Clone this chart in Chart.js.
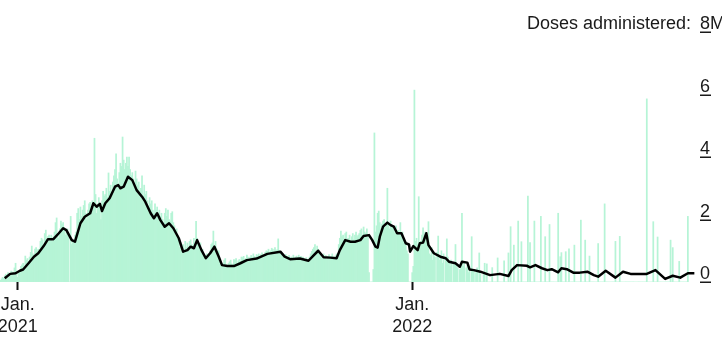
<!DOCTYPE html>
<html>
<head>
<meta charset="utf-8">
<script src="https://cdn.jsdelivr.net/npm/chart.js@4"></script>
<style>
  html, body { margin: 0; padding: 0; background: #fff; }
  #wrap { width: 722px; height: 344px; position: relative; }
</style>
</head>
<body>
<div id="wrap"><canvas id="chart"></canvas></div>
<script>
// Días contados desde el 1 de enero de 2021 (día 0)
const firstDay = -16;

// Dosis diarias (millones), una por día desde firstDay
const dailyDoses = [
  0.05, 0.1, 0.15, 0.12, 0.2, 0.25, 0.18,
  0.3, 0.28, 0.2, 0.35, 0.32, 0.25, 0.45,
  0.6, 0.35, 0.15, 0.3, 0.35, 0.5, 0.55,
  0.6, 0.45, 0.83, 0.7, 0.75, 0.65, 0.8,
  0.95, 1.15, 0.9, 0.8, 1.05, 1.1, 1.0,
  1.05, 0.95, 1.3, 1.4, 1.35, 1.2, 1.55,
  1.66, 1.3, 1.45, 1.5, 1.4, 1.5, 1.3,
  1.45, 1.6, 1.9, 2.05, 1.55, 1.4, 1.7,
  1.95, 1.85, 1.9, 1.75, 1.5, 1.6, 1.7,
  1.55, 0, 2.1, 1.2, 1.3, 1.25, 1.5,
  1.6, 2.2, 2.35, 2.0, 2.4, 2.1, 2.3,
  2.45, 2.6, 2.2, 2.0, 2.3, 2.5, 2.55,
  2.4, 2.6, 2.5, 4.6, 2.8, 2.2, 2.5,
  2.7, 2.4, 2.0, 2.6, 2.9, 2.75, 2.8,
  3.0, 2.7, 3.49, 2.9, 3.1, 2.85, 3.2,
  3.4, 3.6, 4.1, 3.3, 3.0, 3.5, 3.8,
  3.7, 4.64, 3.9, 3.6, 3.8, 4.0, 3.7,
  4.0, 3.6, 3.4, 3.5, 3.3, 3.1, 3.55,
  3.3, 3.1, 3.2, 2.9, 3.0, 3.4, 2.75,
  3.1, 2.8, 2.9, 2.6, 2.4, 2.7, 2.5,
  2.6, 2.3, 2.2, 2.5, 2.3, 2.4, 2.1,
  2.3, 2.1, 2.2, 2.0, 1.9, 2.2, 2.35,
  2.1, 2.3, 2.0, 1.95, 2.2, 2.25, 1.9,
  1.8, 1.6, 1.7, 1.5, 1.4, 1.1, 1.25,
  1.0, 1.2, 0.95, 1.3, 1.1, 1.25, 1.0,
  1.3, 1.35, 1.2, 1.15, 1.4, 1.25, 1.94,
  1.4, 1.2, 1.1, 1.25, 1.0, 1.05, 0.9,
  0.8, 0.85, 0.9, 0.82, 0.88, 1.0, 1.2,
  1.25, 1.63, 1.1, 1.3, 1.05, 0.9, 1.0,
  0.7, 0.65, 0.55, 0.6, 0.7, 0.75, 0.55,
  0.5, 0.6, 0.65, 0.7, 0.58, 0.52, 0.72,
  0.7, 0.75, 0.6, 0.68, 0.72, 0.65, 0.8,
  0.78, 0.82, 0.72, 0.75, 0.86, 0.8, 0.7,
  0.8, 0.85, 0.78, 0.9, 0.82, 0.75, 0.88,
  0.85, 0.9, 0.8, 0.88, 0.93, 0.86, 0.82,
  0.95, 1.0, 0.98, 1.05, 0.92, 1.0, 1.08,
  1.05, 0.98, 1.1, 1.0, 1.03, 1.38, 1.0,
  0.95, 0.9, 0.85, 0.8, 0.75, 0.88, 0.82,
  0.78, 0.85, 0.7, 0.8, 0.75, 0.86, 0.72,
  0.8, 0.83, 0.78, 0.86, 0.7, 0.82, 0.76,
  0.8, 0.74, 0.68, 0.78, 0.72, 0.66, 0.8,
  0.9, 0.98, 1.05, 1.1, 1.2, 1.0, 1.15,
  1.05, 0.9, 0.85, 0.78, 0.83, 0.9, 0.8,
  0.85, 0.72, 0.8, 0.88, 0.76, 0.82, 0.9,
  0.8, 0.75, 0.84, 0.9, 0.78, 1.2, 1.4,
  1.63, 1.45, 1.5, 1.35, 1.55, 1.6, 1.38,
  1.4, 1.5, 1.3, 1.45, 1.55, 1.35, 1.5,
  1.6, 1.45, 1.5, 1.55, 1.65, 1.7, 1.5,
  1.76, 1.6, 1.55, 1.7, 1.5, 0.3, 0,
  0, 0, 0.4, 4.77, 1.6, 1.8, 2.2,
  2.27, 1.9, 1.7, 1.85, 1.95, 2.0, 1.75,
  1.85, 3.0, 1.9, 1.7, 1.95, 1.8, 1.75,
  1.7, 1.55, 1.8, 1.6, 1.65, 1.5, 1.9,
  1.55, 1.6, 1.4, 1.3, 1.2, 1.0, 0.9,
  0, 0, 0, 0.3, 0.5, 6.14, 1.3,
  1.4, 1.2, 2.73, 1.1, 1.3, 1.5, 1.73,
  1.45, 1.6, 1.5, 1.3, 1.93, 0.9, 0.85,
  1.1, 0.7, 0.9, 0.8, 0, 0.95, 1.47,
  0.7, 0.85, 1.0, 0.6, 0.9, 0, 0.75,
  1.38, 0.8, 0.65, 0.5, 0.7, 0, 0.6,
  0.6, 1.2, 0.55, 0.45, 0, 0.4, 0.5,
  2.2, 0.5, 0.6, 0, 0.45, 0.55, 0.3,
  0.5, 0, 1.45, 0.35, 0.4, 0, 0.3,
  0.45, 0, 0.93, 0.3, 0, 0, 0.25,
  0.6, 0, 0.58, 0, 0, 0, 0,
  0.46, 0, 0, 0, 0, 0.77, 0,
  0, 0, 0, 0, 0.68, 0, 0,
  0, 0.93, 0, 1.77, 0, 0, 1.18,
  0, 0, 0, 1.95, 0, 0, 1.29,
  0, 0, 0, 0, 0, 2.75, 0,
  1.26, 0, 0, 0, 1.95, 0, 0,
  0, 0, 0, 2.1, 0, 0, 0,
  1.45, 0, 0, 0, 1.84, 0, 0,
  0, 0, 0, 0, 0, 2.2, 0,
  0.81, 0.94, 0, 0, 0, 0.97, 0,
  0, 1.06, 0, 0, 0, 0, 1.18,
  0, 0, 0, 0, 0, 1.98, 0,
  0, 0, 1.34, 0, 0, 0, 0.83,
  0, 0, 0, 0, 0, 0, 0,
  1.23, 0, 0, 0, 0, 0, 2.5,
  0, 0, 0, 0, 0, 0, 0,
  0, 0, 1.3, 0, 0, 0, 1.46,
  0, 0, 0, 0, 0, 0, 0,
  0, 0, 0, 0, 0, 0, 0,
  0, 0, 0, 0, 0, 0, 0,
  0, 0, 0, 5.86, 0, 0, 0,
  0, 0, 1.93, 0, 0, 0, 1.44,
  0, 0, 0, 0, 0, 0, 0,
  0, 0, 0, 0, 1.34, 0, 1.1,
  0, 0, 0, 0, 0, 0.66, 0,
  0, 0, 0, 0, 0, 0, 2.1
];

// Promedio de 7 días (millones)
const avgDays = [
  -12, -7, -2, 2, 5, 10, 15, 19, 24, 28, 33, 38, 42, 45, 50, 53, 58, 62, 67, 70,
  73, 76, 78, 81, 85, 90, 93, 95, 98, 102, 106, 110, 115, 118, 123, 126, 129, 132, 136, 140,
  144, 149, 153, 157, 160, 163, 166, 170, 174, 178, 182, 186, 189, 194, 200, 206, 212, 221, 231, 243,
  247, 252, 261, 269, 274, 278, 283, 289, 295, 298, 303, 308, 312, 317, 320, 325, 328, 331, 333, 335,
  338, 342, 345, 348, 351, 355, 359, 362, 363, 366, 370, 372, 375, 378, 380, 385, 391, 396, 399, 405,
  409, 411, 416, 418, 422, 428, 437, 446, 454, 457, 462, 471, 474, 479, 485, 490, 494, 500, 503, 508,
  514, 520, 527, 533, 537, 544, 553, 560, 567, 582, 590, 599, 606, 613, 620, 626
];
const avgDoses = [
  0.12, 0.26, 0.28, 0.36, 0.4, 0.6, 0.81, 0.92, 1.15, 1.37, 1.37, 1.56, 1.72, 1.66, 1.34, 1.29, 1.88, 2.09, 2.2, 2.52,
  2.41, 2.5, 2.27, 2.52, 2.68, 3.05, 3.1, 3.0, 3.05, 3.37, 3.26, 2.94, 2.73, 2.57, 2.2, 2.04, 2.2, 1.98, 1.77, 1.88,
  1.72, 1.4, 0.97, 1.02, 1.13, 1.08, 1.34, 1.02, 0.76, 0.92, 1.13, 0.81, 0.54, 0.51, 0.51, 0.6, 0.7, 0.75, 0.9, 0.97,
  0.81, 0.73, 0.75, 0.68, 0.86, 1.0, 0.79, 0.78, 0.76, 1.02, 1.34, 1.29, 1.29, 1.34, 1.47, 1.5, 1.34, 1.13, 1.1, 1.45,
  1.77, 1.9, 1.82, 1.77, 1.56, 1.56, 1.24, 1.2, 0.97, 1.15, 1.02, 1.24, 1.26, 1.56, 1.18, 0.92, 0.81, 0.76, 0.65, 0.6,
  0.49, 0.65, 0.62, 0.4, 0.38, 0.33, 0.22, 0.26, 0.19, 0.38, 0.54, 0.52, 0.47, 0.54, 0.44, 0.38, 0.41, 0.31, 0.44, 0.41,
  0.3, 0.3, 0.33, 0.22, 0.17, 0.36, 0.14, 0.33, 0.26, 0.26, 0.38, 0.1, 0.2, 0.14, 0.28, 0.28
];

// Ejes
const xMin = -16.4;
const xMax = 626.6;
const xTickDays = [0, 365];
const xTickLabels = [['Jan.', '2021'], ['Jan.', '2022']];
const yTickValues = [0, 2, 4, 6, 8];
const yTickLabels = ['0', '2', '4', '6', '8M'];
const yTitle = 'Doses administered:';

const FONT = '"Liberation Sans", Arial, sans-serif';

// Etiquetas del eje Y con subrayado, a la derecha
const yAxisLabels = {
  id: 'yAxisLabels',
  afterDraw(chart) {
    const { ctx, chartArea, scales: { y } } = chart;
    const x0 = chartArea.right + 5;
    ctx.save();
    ctx.font = '18px ' + FONT;
    ctx.fillStyle = '#1a1a1a';
    ctx.strokeStyle = '#1a1a1a';
    ctx.lineWidth = 1.5;
    ctx.textBaseline = 'alphabetic';
    yTickValues.forEach((v, i) => {
      const py = Math.round(y.getPixelForValue(v));
      ctx.textAlign = 'left';
      ctx.fillText(yTickLabels[i], x0, py - 3);
      ctx.beginPath();
      ctx.moveTo(x0, py + 0.25);
      ctx.lineTo(x0 + 11, py + 0.25);
      ctx.stroke();
    });
    ctx.textAlign = 'right';
    ctx.fillText(yTitle, x0 - 9, Math.round(y.getPixelForValue(8)) - 3);
    ctx.restore();
  }
};

const ctx = document.getElementById('chart').getContext('2d');
const chart = new Chart(ctx, {
  type: 'bar',
  data: {
    datasets: [
      {
        type: 'line',
        label: '7-day average',
        data: avgDays.map((d, i) => ({ x: d, y: avgDoses[i] })),
        borderColor: '#000',
        borderWidth: 2.5,
        borderJoinStyle: 'round',
        pointRadius: 0,
        tension: 0,
        order: 0
      },
      {
        label: 'Daily doses',
        data: dailyDoses.map((v, i) => ({ x: firstDay + i, y: v })),
        backgroundColor: '#b6f4d6',
        borderWidth: 0,
        barPercentage: 1,
        categoryPercentage: 1,
        order: 1
      }
    ]
  },
  options: {
    responsive: true,
    maintainAspectRatio: false,
    animation: false,
    layout: { padding: { top: 32, right: 27, left: 0, bottom: 0 } },
    plugins: {
      legend: { display: false },
      tooltip: { enabled: false }
    },
    scales: {
      x: {
        type: 'linear',
        min: xMin,
        max: xMax,
        offset: false,
        border: { display: false },
        grid: {
          offset: false,
          drawOnChartArea: false,
          drawTicks: true,
          tickLength: 8,
          tickWidth: 2,
          tickColor: '#111'
        },
        afterBuildTicks: axis => {
          axis.ticks = xTickDays.map(v => ({ value: v }));
        },
        afterFit: scale => {
          scale.height = 62;
          scale.paddingLeft = 0;
          scale.paddingRight = 0;
        },
        ticks: {
          autoSkip: false,
          maxRotation: 0,
          padding: 4,
          color: '#1a1a1a',
          font: { family: FONT, size: 18, lineHeight: 1.22 },
          callback: value => {
            const i = xTickDays.indexOf(value);
            return i >= 0 ? xTickLabels[i] : '';
          }
        }
      },
      y: {
        display: false,
        min: 0,
        max: 8
      }
    }
  },
  plugins: [yAxisLabels]
});
</script>
</body>
</html>
